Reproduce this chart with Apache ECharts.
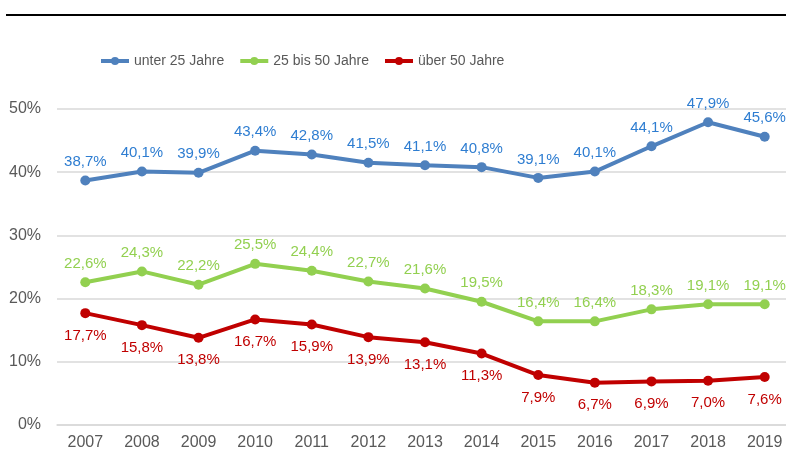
<!DOCTYPE html>
<html>
<head>
<meta charset="utf-8">
<script src="https://cdn.jsdelivr.net/npm/echarts@6/dist/echarts.min.js"></script>
<style>
  html, body { margin: 0; padding: 0; background: #fff; overflow: hidden; }
  #chart { width: 800px; height: 452px; }
</style>
</head>
<body>
<div id="chart"></div>
<script>
const years = ['2007', '2008', '2009', '2010', '2011', '2012', '2013', '2014', '2015', '2016', '2017', '2018', '2019']
const unter25 = [38.7, 40.1, 39.9, 43.4, 42.8, 41.5, 41.1, 40.8, 39.1, 40.1, 44.1, 47.9, 45.6]
const mitte = [22.6, 24.3, 22.2, 25.5, 24.4, 22.7, 21.6, 19.5, 16.4, 16.4, 18.3, 19.1, 19.1]
const ueber50 = [17.7, 15.8, 13.8, 16.7, 15.9, 13.9, 13.1, 11.3, 7.9, 6.7, 6.9, 7.0, 7.6]
const names = ['unter 25 Jahre', '25 bis 50 Jahre', 'über 50 Jahre']

const pct = (v) => v.toFixed(1).replace('.', ',') + '%'

// eine Linie mit Beschriftung
const serie = (name, data, color, labelColor, pos) => ({
  name: name,
  type: 'line',
  data: data,
  symbol: 'circle',
  symbolSize: 10,
  lineStyle: { color: color, width: 4 },
  itemStyle: { color: color },
  label: {
    show: true,
    position: pos,
    distance: pos === 'top' ? 6 : 10,
    color: labelColor,
    fontSize: 15,
    fontFamily: 'Liberation Sans',
    formatter: (p) => pct(p.value),
  },
})

const chart = echarts.init(document.getElementById('chart'))
chart.setOption({
  animation: false,
  textStyle: { fontFamily: 'Liberation Sans' },
  graphic: [{
    type: 'line',
    shape: { x1: 6, y1: 15, x2: 800, y2: 15 },
    style: { stroke: '#000', lineWidth: 2 },
  }],
  legend: {
    data: names,
    left: 94,
    top: 49,
    itemWidth: 28,
    itemHeight: 10,
    itemGap: 14,
    lineStyle: { width: 4 },
    textStyle: { fontSize: 14, color: '#595959' },
  },
  grid: { left: 57, top: 109, right: 7, bottom: 27 },
  xAxis: {
    type: 'category',
    data: years,
    boundaryGap: true,
    axisTick: { show: false },
    axisLine: { lineStyle: { color: '#D9D9D9', width: 1.5 } },
    axisLabel: { color: '#595959', fontSize: 16, margin: 10 },
  },
  yAxis: {
    type: 'value',
    min: 0,
    max: 50,
    interval: 10,
    axisLabel: { color: '#595959', fontSize: 16, margin: 16, formatter: (v) => v + '%' },
    splitLine: { lineStyle: { color: '#D9D9D9', width: 1.5 } },
  },
  series: [
    serie(names[0], unter25, '#4F81BD', '#2E7DD1', 'top'),
    serie(names[1], mitte, '#92D050', '#92D050', 'top'),
    serie(names[2], ueber50, '#C00000', '#C00000', 'bottom'),
  ],
})
</script>
</body>
</html>
